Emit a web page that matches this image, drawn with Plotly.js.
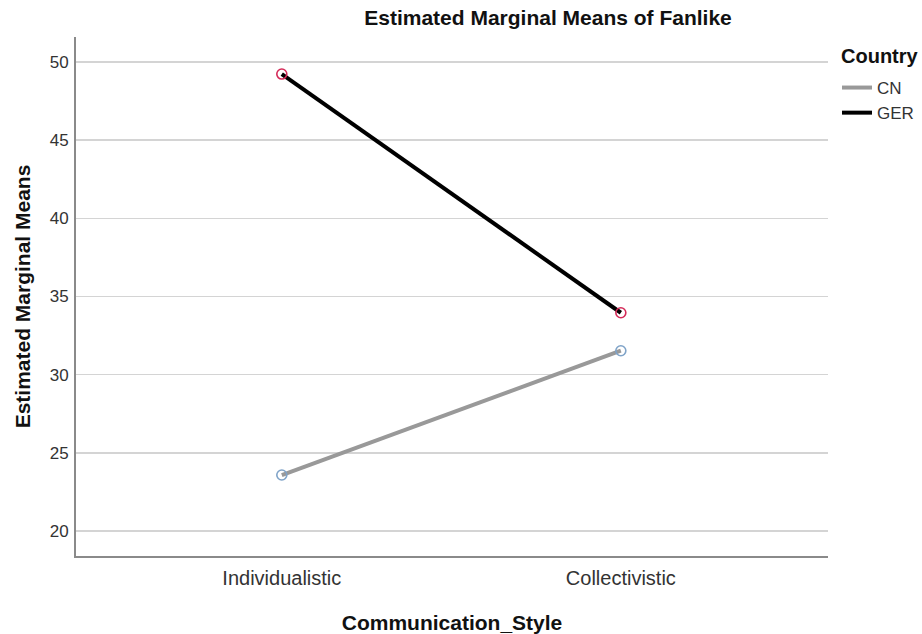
<!DOCTYPE html>
<html>
<head>
<meta charset="utf-8">
<script src="https://cdn.plot.ly/plotly-3.0.1.min.js"></script>
<style>
  html, body { margin: 0; padding: 0; background: #ffffff; }
  #chart { width: 922px; height: 634px; }
</style>
</head>
<body>
<div id="chart"></div>
<script>
// Estimated marginal means of Fanlike by communication style and country
const styles = ["Individualistic", "Collectivistic"];
const countries = ["CN", "GER"];
const meansCN = [23.58, 31.53];
const meansGER = [49.23, 33.96];
const yTicks = [20, 25, 30, 35, 40, 45, 50];

const FONT = "Liberation Sans, Arial, sans-serif";

const lineColors = { CN: "#999999", GER: "#000000" };
const markerColors = { CN: "#7fa3c8", GER: "#d42a58" };
const seriesValues = { CN: meansCN, GER: meansGER };

const traces = [];
countries.forEach(c => {
  // plotted line with open circle markers at each mean
  traces.push({
    type: "scatter",
    mode: "lines+markers",
    x: styles,
    y: seriesValues[c],
    name: c,
    showlegend: false,
    line: { color: lineColors[c], width: 4 },
    marker: {
      symbol: "circle-open",
      size: 10,
      color: markerColors[c],
      line: { width: 1.6, color: markerColors[c] }
    },
    hoverinfo: "x+y+name"
  });
});
countries.forEach(c => {
  // legend entries show the line only
  traces.push({
    type: "scatter",
    mode: "lines",
    x: [null],
    y: [null],
    name: c,
    showlegend: true,
    line: { color: lineColors[c], width: 4 }
  });
});

// plot area in pixels, used to place the legend heading
const M = { l: 76, r: 94, t: 37, b: 78 };
const plotW = 922 - M.l - M.r;
const plotH = 634 - M.t - M.b;

const layout = {
  width: 922,
  height: 634,
  paper_bgcolor: "#ffffff",
  plot_bgcolor: "#ffffff",
  margin: { l: M.l, r: M.r, t: M.t, b: M.b, autoexpand: false },
  font: { family: FONT, color: "#333333" },
  title: {
    text: "<b>Estimated Marginal Means of Fanlike</b>",
    font: { family: FONT, size: 21, color: "#111111" },
    xref: "container",
    yref: "container",
    x: 548 / 922,
    xanchor: "center",
    y: 1 - 18 / 634,
    yanchor: "middle"
  },
  xaxis: {
    type: "category",
    categoryarray: styles,
    range: [-0.607, 1.611],
    showgrid: false,
    zeroline: false,
    showline: true,
    linecolor: "#8a8a8a",
    linewidth: 2,
    ticks: "",
    ticklabelstandoff: 3,
    tickfont: { family: FONT, size: 20, color: "#333333" },
    title: {
      text: "<b>Communication_Style</b>",
      font: { family: FONT, size: 21, color: "#111111" },
      standoff: 28
    },
    automargin: false,
    fixedrange: true
  },
  yaxis: {
    range: [18.4, 51.6],
    tickvals: yTicks,
    ticktext: yTicks.map(String),
    showgrid: true,
    gridcolor: "#d4d4d4",
    gridwidth: 1.5,
    zeroline: false,
    showline: true,
    linecolor: "#8a8a8a",
    linewidth: 2,
    ticks: "",
    ticklabelstandoff: 2,
    tickfont: { family: FONT, size: 17, color: "#333333" },
    title: {
      text: "<b>Estimated Marginal Means</b>",
      font: { family: FONT, size: 21, color: "#111111" },
      standoff: 13
    },
    automargin: false,
    fixedrange: true
  },
  annotations: [{
    text: "<b>Country</b>",
    xref: "paper",
    yref: "paper",
    x: (839 - M.l) / plotW,
    xanchor: "left",
    y: (634 - M.b - 56) / plotH,
    yanchor: "middle",
    showarrow: false,
    font: { family: FONT, size: 20, color: "#111111" }
  }],
  legend: {
    x: 1.012,
    xanchor: "left",
    y: (634 - M.b - 70) / plotH,
    yanchor: "top",
    bgcolor: "rgba(0,0,0,0)",
    borderwidth: 0,
    itemwidth: 30,
    tracegroupgap: 0,
    font: { family: FONT, size: 17, color: "#333333" }
  },
  showlegend: true
};

Plotly.newPlot("chart", traces, layout, { displayModeBar: false, staticPlot: true });
</script>
</body>
</html>
